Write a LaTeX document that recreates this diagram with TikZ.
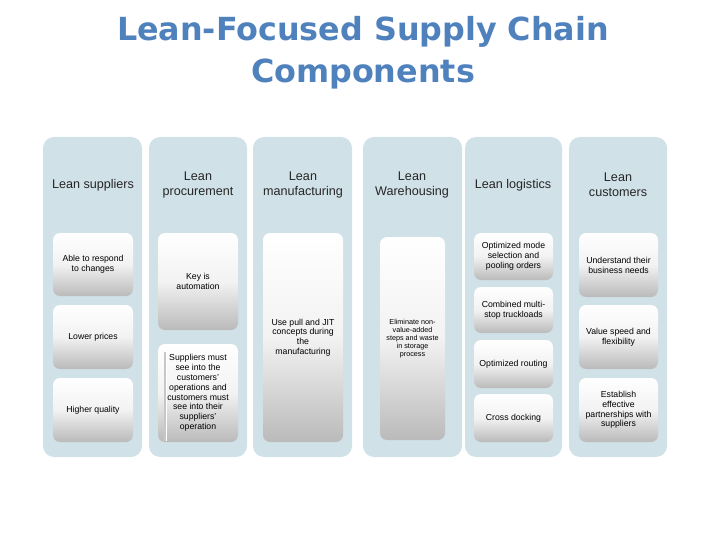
\documentclass[tikz,border=0pt]{standalone}
\usepackage{fontspec}
\setmainfont{Liberation Sans}
\newfontfamily\titlefont{DejaVu Sans}
\definecolor{titleblue}{RGB}{79,129,189}
\definecolor{colblue}{RGB}{208,225,232}
\begin{document}
\begin{tikzpicture}[x=1pt,y=-1pt,
  colbox/.style={fill=colblue,rounded corners=11pt,draw=none},
  head/.style={font=\fontsize{12.6}{15}\selectfont,align=center,text=black!85},
  item/.style={rounded corners=7pt,top color=white,bottom color=black!27,middle color=black!5,draw=none,
     font=\fontsize{8.7}{9.8}\selectfont,align=center,inner sep=0pt},
  smallitem/.style={item,font=\fontsize{7.2}{8}\selectfont}]
\useasboundingbox (0,0) rectangle (720,540);
% title
\node[font=\titlefont\bfseries\fontsize{31.8}{42}\selectfont,text=titleblue,align=center] (title) at (363,53) {Lean-Focused Supply Chain\\Components};
% columns
\path[colbox] (43,137) rectangle (142,457) coordinate (c1);
\path[colbox] (149,137) rectangle (247,457) coordinate (c2);
\path[colbox] (253,137) rectangle (352,457) coordinate (c3);
\path[colbox] (363,137) rectangle (462,457) coordinate (c4);
\path[colbox] (465,137) rectangle (562,457) coordinate (c5);
\path[colbox] (569,137) rectangle (667,457) coordinate (c6);
% headers
\node[head] (h1) at (93,185) {Lean suppliers};
\node[head] (h2) at (198,185) {Lean\\procurement};
\node[head] (h3) at (303,185) {Lean\\manufacturing};
\node[head] (h4) at (412,185) {Lean\\Warehousing};
\node[head] (h5) at (513,185) {Lean logistics};
\node[head] (h6) at (618,185) {Lean\\customers};
% column 1
\node[item,minimum width=80pt,minimum height=63pt] (a1) at (93,264.5) {Able to respond\\to changes};
\node[item,minimum width=80pt,minimum height=64pt] (a2) at (93,337) {Lower prices};
\node[item,minimum width=80pt,minimum height=64pt] (a3) at (93,410) {Higher quality};
% column 2
\node[item,minimum width=80pt,minimum height=97pt] (b1) at (198,281.5) {Key is\\automation};
\node[item,minimum width=80pt,minimum height=98pt] (b2) at (198,393) {Suppliers must\\see into the\\customers'\\operations and\\customers must\\see into their\\suppliers'\\operation};
\draw[black!22,line width=1.2pt] (165,352) -- (165,441);
\draw[white,line width=0.8pt] (166.5,350) -- (166.5,441);
% column 3
\node[item,minimum width=80pt,minimum height=209pt] (m1) at (303,337.5) {Use pull and JIT\\concepts during\\the\\manufacturing};
% column 4
\node[smallitem,minimum width=65pt,minimum height=203pt] (w1) at (412.5,338.5) {Eliminate non-\\value-added\\steps and waste\\in storage\\process};
% column 5
\node[item,minimum width=79pt,minimum height=47pt] (l1) at (513.5,256.5) {Optimized mode\\selection and\\pooling orders};
\node[item,minimum width=79pt,minimum height=46pt] (l2) at (513.5,310) {Combined multi-\\stop truckloads};
\node[item,minimum width=79pt,minimum height=48pt] (l3) at (513.5,364) {Optimized routing};
\node[item,minimum width=79pt,minimum height=48pt] (l4) at (513.5,418) {Cross docking};
% column 6
\node[item,minimum width=79pt,minimum height=64pt] (k1) at (618.5,265) {Understand their\\business needs};
\node[item,minimum width=79pt,minimum height=64pt] (k2) at (618.5,337) {Value speed and\\flexibility};
\node[item,minimum width=79pt,minimum height=64pt] (k3) at (618.5,410) {Establish\\effective\\partnerships with\\suppliers};
\end{tikzpicture}
\end{document}
